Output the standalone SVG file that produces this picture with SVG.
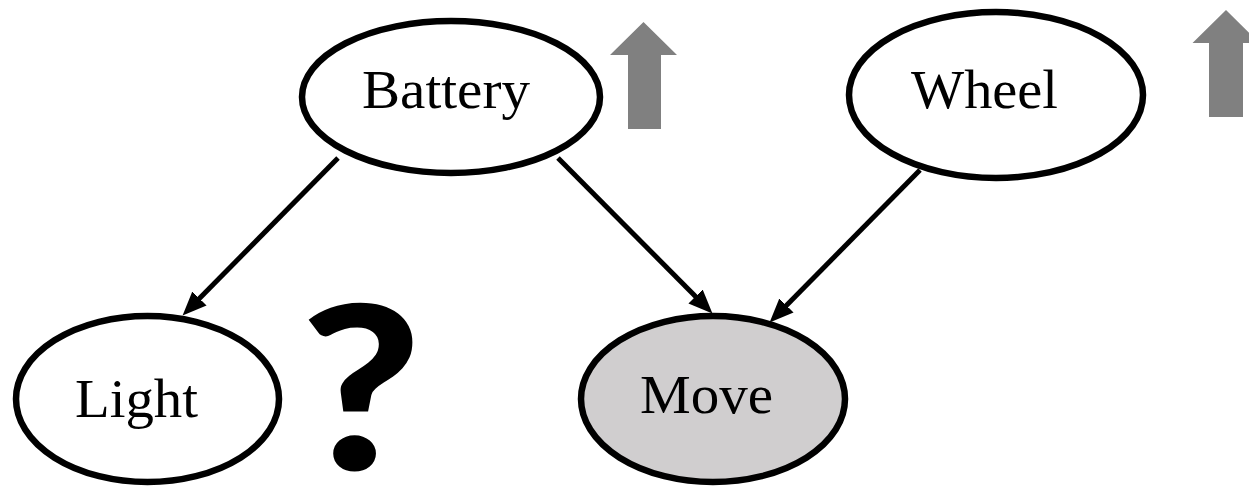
<svg xmlns="http://www.w3.org/2000/svg" width="1249" height="488" viewBox="0 0 1249 488">
<style>
.node ellipse{fill:#ffffff;stroke:#000000;stroke-width:6.5}
.node.obs ellipse{fill:#d0cecf}
.node text{font-family:"Liberation Serif","Times New Roman",serif;font-size:54px;fill:#000000}
.edge{stroke:#000000;stroke-width:5;fill:none}
.up{fill:#808080}
.q{font-family:Lato,"Liberation Sans",Arial,sans-serif;font-weight:900;font-size:228px;fill:#000000}
</style>
<defs>
<marker id="ah" markerUnits="userSpaceOnUse" markerWidth="26" markerHeight="22" refX="12" refY="10" orient="auto">
<path d="M0,0 L24,10 L0,20 z" fill="#000000"/>
</marker>
</defs>
<rect width="1249" height="488" fill="#ffffff"/>
<g id="node-battery" class="node">
<ellipse cx="451" cy="97" rx="149" ry="76"/>
<text x="362" y="108" textLength="168" lengthAdjust="spacingAndGlyphs">Battery</text>
</g>
<g id="node-wheel" class="node">
<ellipse cx="996" cy="95" rx="147" ry="83"/>
<text x="911" y="108" textLength="147" lengthAdjust="spacingAndGlyphs">Wheel</text>
</g>
<g id="node-light" class="node">
<ellipse cx="147.5" cy="399" rx="131.5" ry="83"/>
<text x="75" y="417" textLength="123" lengthAdjust="spacingAndGlyphs">Light</text>
</g>
<g id="node-move" class="node obs">
<ellipse cx="713" cy="399" rx="132" ry="83"/>
<text x="640" y="413" textLength="133" lengthAdjust="spacingAndGlyphs">Move</text>
</g>
<g id="connectors">
<line class="edge" x1="338" y1="158" x2="191" y2="307" marker-end="url(#ah)"/>
<line class="edge" x1="558" y1="158" x2="704" y2="305" marker-end="url(#ah)"/>
<line class="edge" x1="920" y1="170" x2="778" y2="314" marker-end="url(#ah)"/>
</g>
<g id="indicators">
<polygon class="up" points="643.5,22 677,55 661,55 661,129 628,129 628,55 610,55"/>
<polygon class="up" points="1226,10 1259.5,43 1243,43 1243,117 1209,117 1209,43 1192.5,43"/>
<text class="q" transform="translate(361,470) scale(1.15,1)" x="0" y="0" text-anchor="middle">?</text>
</g>
</svg>
